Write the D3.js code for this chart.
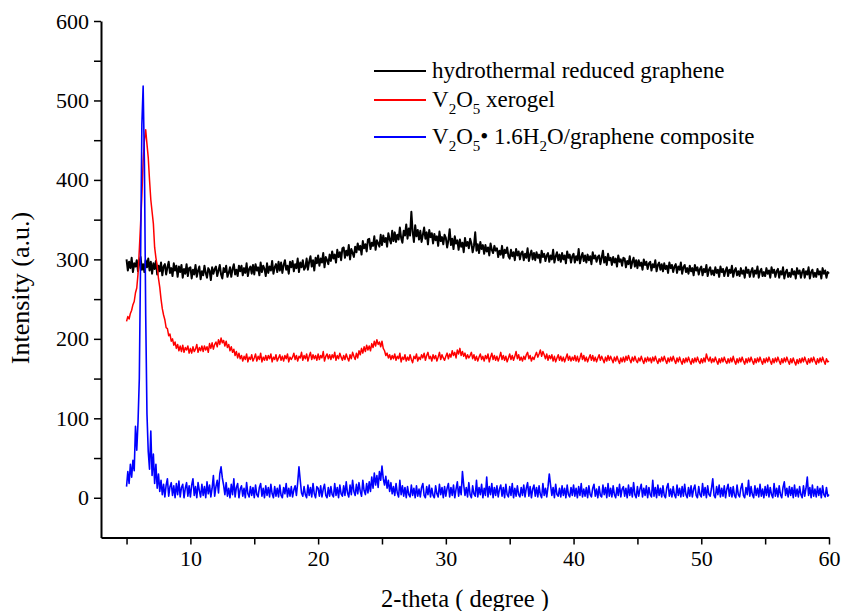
<!DOCTYPE html>
<html>
<head>
<meta charset="utf-8">
<script src="https://cdn.jsdelivr.net/npm/d3@7"></script>
<style>
  body { margin: 0; background: #fff; }
  svg text { font-family: "Liberation Serif", "Times New Roman", serif; fill: #000; }
</style>
</head>
<body>
<div id="chart"></div>
<script>
// scan grid: 5.0 .. 60.0 deg, 0.1 deg step
const scanStart = 5.0;
const scanStep = 0.1;

// hydrothermal reduced graphene
const grapheneCounts = [
  300,286,297,289,302,284,295,291,299,285,
  296,303,287,294,284,299,290,301,286,297,
  282,295,288,298,281,292,285,296,280,291,
  294,281,290,297,283,289,279,295,286,292,
  278,291,284,293,277,288,282,294,279,289,
  290,276,287,281,293,278,286,291,275,285,
  280,292,283,277,289,286,274,290,282,288,
  291,279,286,293,281,276,289,284,292,278,
  283,290,278,288,294,281,287,279,292,285,
  292,280,289,283,295,279,288,291,282,293,
  281,294,286,290,280,296,284,292,288,279,
  295,283,291,286,298,282,290,294,284,297,
  286,296,283,293,299,287,292,282,297,290,
  298,285,294,289,301,284,296,290,299,287,
  290,301,287,297,304,291,299,286,302,295,
  305,292,301,296,308,290,303,299,294,306,
  298,310,301,306,296,312,303,309,299,314,
  315,302,311,305,318,300,313,308,303,316,
  309,320,312,317,306,323,314,319,310,325,
  326,313,321,317,329,312,324,320,316,331,
  318,330,322,327,316,333,325,320,336,323,
  334,322,331,325,340,327,321,336,330,344,
  326,339,330,360,335,322,343,329,337,325,
  336,322,331,340,326,334,319,337,328,333,
  320,332,324,329,317,335,323,328,319,331,
  327,315,324,338,318,326,313,329,320,324,
  312,325,316,321,309,327,317,322,314,326,
  320,309,317,334,311,319,308,322,313,318,
  307,318,310,315,305,320,312,308,317,311,
  314,303,311,306,317,302,312,308,315,304,
  301,312,304,309,299,313,305,310,300,308,
  310,299,307,302,314,298,306,311,300,308,
  299,309,302,306,296,311,303,307,298,305,
  308,297,305,300,312,296,304,309,299,306,
  297,308,300,305,295,310,302,306,296,304,
  307,296,304,299,313,295,303,308,298,305,
  296,306,299,304,294,309,301,305,297,303,
  305,294,302,311,296,303,293,307,299,302,
  293,303,296,301,291,305,297,300,292,302,
  301,290,298,294,304,289,297,302,291,299,
  289,299,292,296,287,300,293,297,288,295,
  297,286,294,290,299,285,293,296,287,294,
  285,295,288,292,283,296,289,293,284,291,
  294,283,291,287,296,282,290,293,284,289,
  282,292,285,289,280,293,286,290,281,288,
  291,280,288,284,293,279,287,290,281,286,
  280,290,283,287,278,291,284,288,279,286,
  290,279,287,283,292,278,286,289,280,285,
  279,289,282,286,277,290,283,287,278,285,
  289,278,286,282,291,277,285,288,279,284,
  279,289,282,286,277,290,283,287,278,285,
  288,277,285,281,290,276,284,287,278,283,
  278,288,281,285,276,289,282,286,277,284,
  288,277,285,281,290,276,284,287,278,283,
  278,288,281,285,276,289,282,286,277,284,
  282
];

// V2O5 xerogel
const xerogelCounts = [
  222,228,225,232,236,243,247,258,264,282,
  312,345,380,424,450,463,445,428,400,375,
  360,345,315,302,292,276,265,250,238,230,
  224,214,213,204,206,197,200,192,196,188,
  193,185,191,184,192,183,189,186,191,182,
  188,182,190,184,187,193,183,189,185,191,
  184,191,186,190,183,194,188,195,187,193,
  196,190,199,193,201,195,198,191,197,189,
  193,185,190,183,187,179,184,176,182,175,
  179,172,178,174,181,171,177,174,180,172,
  176,181,172,178,174,182,171,177,173,179,
  173,179,175,181,171,177,174,180,172,176,
  180,173,178,172,179,175,181,171,177,174,
  177,182,174,179,172,178,176,183,173,179,
  175,181,172,178,183,174,180,175,179,173,
  181,174,179,176,184,172,178,181,175,180,
  174,180,176,183,173,179,175,182,177,173,
  179,174,181,176,172,180,175,183,178,174,
  182,176,185,180,188,182,190,184,192,186,
  191,185,194,189,197,191,199,193,196,190,
  197,188,185,179,182,176,180,174,179,175,
  181,173,178,175,182,171,177,174,180,172,
  177,173,180,174,170,178,175,181,172,177,
  174,180,176,182,173,179,183,175,178,172,
  180,175,179,172,177,183,174,180,176,173,
  178,182,175,181,177,185,179,183,176,186,
  181,188,179,184,178,182,175,180,176,179,
  183,175,180,173,178,172,177,181,174,178,
  172,179,175,181,171,177,182,174,179,173,
  178,172,177,183,174,179,173,178,171,176,
  181,174,179,173,178,184,175,180,173,177,
  172,178,174,180,183,175,179,172,177,174,
  179,183,177,181,186,178,184,180,175,181,
  173,179,175,180,172,178,171,176,180,173,
  178,172,177,171,176,181,173,178,172,177,
  173,179,172,178,171,176,182,174,179,172,
  177,171,176,180,173,179,172,177,171,176,
  180,173,178,174,170,177,172,179,173,178,
  174,170,177,172,178,173,169,176,171,177,
  171,178,173,179,174,170,177,172,178,173,
  170,176,172,178,173,169,176,171,177,172,
  176,170,177,172,178,173,169,175,171,177,
  172,178,173,169,176,171,177,172,178,173,
  169,176,171,177,172,168,175,170,176,171,
  177,172,168,175,170,176,171,177,172,169,
  175,170,176,171,181,175,172,177,170,175,
  171,177,172,168,175,170,176,171,177,172,
  169,175,170,176,171,178,172,168,175,170,
  176,171,177,172,168,175,170,176,171,177,
  172,168,175,170,176,171,177,172,168,175,
  170,176,171,177,172,168,175,170,176,171,
  177,172,168,175,170,176,171,177,172,168,
  175,170,176,171,167,174,169,175,170,176,
  171,177,172,168,175,170,176,171,177,172,
  168,175,170,176,171,177,172,168,175,171,
  172
];

// V2O5·1.6H2O/graphene composite
const compositeCounts = [
  14,33,18,42,26,47,34,90,60,96,
  150,300,470,518,420,230,105,58,36,84,
  28,55,18,42,12,30,8,22,4,17,
  1,16,24,2,14,19,3,15,0,18,
  4,21,1,13,17,0,12,19,2,15,
  1,16,24,3,14,0,19,9,1,17,
  3,14,0,20,5,16,1,12,28,2,
  14,22,6,30,39,25,16,4,19,2,
  12,0,17,4,24,1,13,18,0,11,
  15,2,12,0,19,5,1,14,3,13,
  0,16,4,1,13,18,2,12,0,15,
  3,13,1,17,5,0,14,2,12,1,
  16,3,0,13,5,18,1,12,2,14,
  1,10,15,3,19,39,22,6,2,14,
  4,0,16,3,13,1,18,5,0,14,
  12,2,15,1,11,17,3,0,13,2,
  14,4,1,18,3,13,0,16,5,2,
  15,3,20,6,1,16,4,22,8,3,
  17,5,19,8,2,22,9,4,18,6,
  20,8,26,12,31,16,28,13,33,22,
  40,24,16,27,12,22,8,19,5,14,
  3,18,6,1,22,4,15,2,13,0,
  14,4,1,16,3,12,0,15,2,11,
  1,13,18,3,0,14,4,16,1,12,
  3,0,15,5,1,17,4,13,0,14,
  2,12,18,1,13,3,16,0,11,20,
  2,14,4,33,16,3,13,1,19,4,
  0,15,5,2,22,1,13,4,17,0,
  12,3,26,1,14,4,18,0,13,3,
  15,1,11,16,2,13,0,17,4,1,
  14,3,18,0,12,2,15,4,1,13,
  3,16,1,12,19,2,14,0,11,16,
  2,13,1,15,4,0,18,3,12,1,
  14,30,16,3,13,0,17,4,2,12,
  1,15,3,12,0,16,4,1,13,3,
  16,2,12,0,14,3,18,1,11,2,
  13,0,15,4,1,12,17,2,11,0,
  14,3,1,16,4,13,0,18,2,12,
  1,15,4,0,13,3,17,1,11,14,
  2,12,0,16,3,13,1,19,4,0,
  14,2,11,17,1,12,3,15,0,13,
  4,1,22,2,13,0,16,3,12,1,
  15,3,0,13,18,2,11,1,14,4,
  0,16,3,12,1,14,2,17,4,0,
  13,2,15,1,11,16,3,0,14,4,
  1,18,3,13,0,15,4,2,12,24,
  3,0,14,4,16,1,12,2,15,0,
  11,17,2,13,1,14,3,0,16,4,
  1,12,18,3,0,13,4,22,2,14,
  4,0,15,3,12,1,17,2,11,0,
  14,3,16,1,13,4,0,18,2,12,
  1,15,4,0,13,20,3,12,1,14,
  3,13,0,16,2,11,1,14,4,0,
  15,2,12,26,3,13,0,16,2,11,
  1,14,3,12,0,15,4,1,13,2,
  4
];

const xTicksMajor = [10, 20, 30, 40, 50, 60];
const xTicksMinor = [5, 15, 25, 35, 45, 55];
const yTicksMajor = [0, 100, 200, 300, 400, 500, 600];
const yTicksMinor = [50, 150, 250, 350, 450, 550];

const width = 841, height = 611;
const svg = d3.select("#chart").append("svg")
  .attr("width", width)
  .attr("height", height);

const x = d3.scaleLinear().domain([3, 60]).range([101, 829]);
const y = d3.scaleLinear().domain([-50, 600]).range([537.5, 21]);

const toPoints = counts => counts.map((c, i) => ({ t: scanStart + i * scanStep, v: c }));

const series = [
  { name: "graphene", color: "#000000", width: 2, data: toPoints(grapheneCounts) },
  { name: "xerogel", color: "#ff0000", width: 1.5, data: toPoints(xerogelCounts) },
  { name: "composite", color: "#0000ff", width: 1.6, data: toPoints(compositeCounts) }
];

const line = d3.line().x(d => x(d.t)).y(d => y(d.v));

svg.selectAll(".trace")
  .data(series)
  .enter()
  .append("path")
  .attr("class", "trace")
  .attr("fill", "none")
  .attr("stroke", d => d.color)
  .attr("stroke-width", d => d.width)
  .attr("stroke-linejoin", "round")
  .attr("d", d => line(d.data));

// axes
function styleAxis(g) {
  g.select(".domain").attr("stroke", "#000").attr("stroke-width", 2);
  g.selectAll(".tick line").attr("stroke", "#000").attr("stroke-width", 1.5);
  g.selectAll(".tick text").attr("font-size", 22);
}

svg.append("g").attr("transform", "translate(0,537.5)")
  .call(d3.axisBottom(x).tickValues(xTicksMajor).tickSize(7).tickSizeOuter(0).tickPadding(6))
  .call(styleAxis);
svg.append("g").attr("transform", "translate(0,537.5)")
  .call(d3.axisBottom(x).tickValues(xTicksMinor).tickSize(7).tickFormat(""))
  .call(g => g.select(".domain").remove())
  .call(styleAxis);

svg.append("g").attr("transform", "translate(101,0)")
  .call(d3.axisLeft(y).tickValues(yTicksMajor).tickSize(7).tickSizeOuter(0).tickPadding(5))
  .call(styleAxis);
svg.append("g").attr("transform", "translate(101,0)")
  .call(d3.axisLeft(y).tickValues(yTicksMinor).tickSize(7).tickFormat(""))
  .call(g => g.select(".domain").remove())
  .call(styleAxis);

// axis titles
svg.append("text")
  .attr("x", 465).attr("y", 607)
  .attr("text-anchor", "middle")
  .attr("font-size", 24.5)
  .text("2-theta ( degree )");

svg.append("text")
  .attr("transform", "translate(29,288) rotate(-90)")
  .attr("text-anchor", "middle")
  .attr("font-size", 26)
  .text("Intensity (a.u.)");

// legend
const legendRows = [
  { color: "#000000", y: 71, parts: [["hydrothermal reduced graphene", 0]] },
  { color: "#ff0000", y: 100, parts: [["V", 0], ["2", 1], ["O", 0], ["5", 1], [" xerogel", 0]] },
  { color: "#0000ff", y: 137, parts: [["V", 0], ["2", 1], ["O", 0], ["5", 1], ["\u2022 1.6H", 0], ["2", 1], ["O/graphene composite", 0]] }
];

const legend = svg.append("g");
legendRows.forEach(row => {
  legend.append("line")
    .attr("x1", 374).attr("x2", 426)
    .attr("y1", row.y).attr("y2", row.y)
    .attr("stroke", row.color).attr("stroke-width", 2);
  const t = legend.append("text")
    .attr("x", 432).attr("y", row.y + 7)
    .attr("font-size", 23);
  let sub = 0;
  row.parts.forEach(([txt, isSub]) => {
    const dy = isSub && !sub ? 7 : (!isSub && sub ? -7 : 0);
    t.append("tspan")
      .attr("dy", dy)
      .attr("font-size", isSub ? 15 : 23)
      .text(txt);
    sub = isSub;
  });
});
</script>
</body>
</html>
